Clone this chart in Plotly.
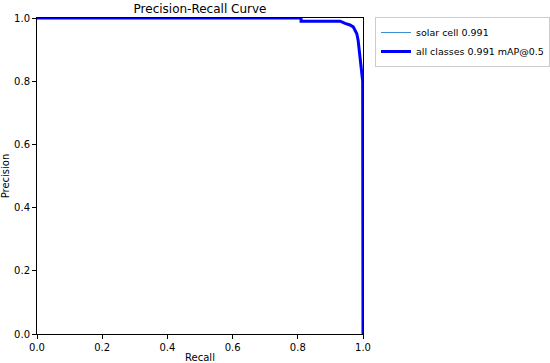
import plotly.graph_objects as go

recall = [0.0, 0.81, 0.81, 0.93, 0.945, 0.96, 0.97, 0.976, 0.981, 0.985, 0.988, 0.992, 0.995, 0.996, 0.997, 0.999, 1.0]
precision = [1.0, 1.0, 0.99, 0.99, 0.983, 0.978, 0.972, 0.962, 0.95, 0.93, 0.90, 0.87, 0.85, 0.835, 0.81, 0.80, 0.0]
class_label = "solar cell 0.991"
all_label = "all classes 0.991 mAP@0.5"
ticks = [0.0, 0.2, 0.4, 0.6, 0.8, 1.0]
tick_text = ["0.0", "0.2", "0.4", "0.6", "0.8", "1.0"]

fig = go.Figure()
fig.add_trace(go.Scatter(x=recall, y=precision, mode="lines", name=class_label,
                         line=dict(color="#3b8fd0", width=1)))
fig.add_trace(go.Scatter(x=recall, y=precision, mode="lines", name=all_label,
                         line=dict(color="#0000ff", width=3)))

axis_common = dict(range=[0, 1], tickvals=ticks, ticktext=tick_text, showgrid=False,
                   zeroline=False, showline=True, linecolor="#000000", linewidth=1,
                   mirror=True, ticks="outside", ticklen=4, tickwidth=1, tickcolor="#000000",
                   automargin=False,
                   tickfont=dict(family="DejaVu Sans", size=10, color="#000000"))

fig.update_layout(
    width=550, height=363,
    margin=dict(l=37, r=187, t=18, b=29, autoexpand=False),
    paper_bgcolor="white", plot_bgcolor="white",
    title=dict(text="Precision-Recall Curve", x=200 / 550, xanchor="center",
               y=1 - 9 / 363, yanchor="middle",
               font=dict(family="DejaVu Sans", size=12, color="#000000")),
    xaxis=dict(**axis_common, title=dict(text="Recall", standoff=2,
               font=dict(family="DejaVu Sans", size=10, color="#000000"))),
    yaxis=dict(**axis_common, title=dict(text="Precision", standoff=4,
               font=dict(family="DejaVu Sans", size=10, color="#000000"))),
    legend=dict(xref="container", yref="container", x=375 / 550, y=1 - 17 / 363,
                xanchor="left", yanchor="top",
                bgcolor="white", bordercolor="#cccccc", borderwidth=1,
                font=dict(family="DejaVu Sans", size=9.5, color="#000000"),
                itemwidth=30, tracegroupgap=0),
    showlegend=True,
)

fig.write_html("out.html", config={"displayModeBar": False},
               post_script="document.body.style.margin='0';")
